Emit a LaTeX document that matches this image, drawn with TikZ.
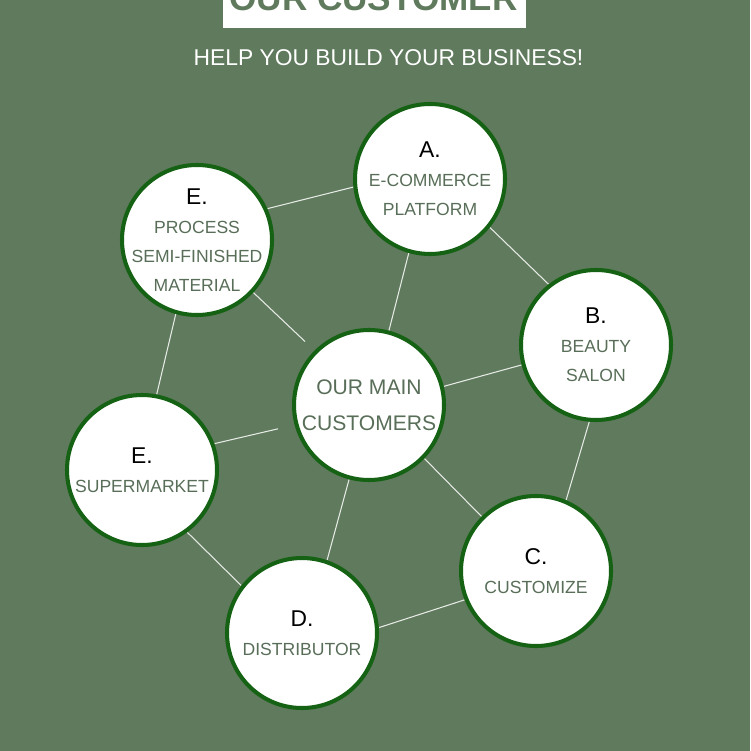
\documentclass[tikz,border=0pt]{standalone}
\usepackage{fontspec}
\setmainfont{Liberation Sans}
\usetikzlibrary{positioning}
\pgfdeclarelayer{background layer}
\pgfsetlayers{background layer,main}
\definecolor{leaf}{RGB}{95,122,92}
\definecolor{rim}{RGB}{22,98,20}
\definecolor{sage}{RGB}{88,110,88}
\newcommand{\bubblehead}[1]{{\fontsize{13}{16.4}\selectfont\color{black}#1}}

\begin{document}
\begin{tikzpicture}
\tikzstyle{bubble}=[draw=rim,line width=2.3pt,circle,fill=white,minimum size=3cm,inner sep=0pt]
\tikzstyle{words}=[align=center,text=sage,inner sep=0pt,font=\fontsize{10}{16.4}\selectfont]
\tikzstyle{link}=[draw=white,line width=0.6pt,opacity=0.85]
\useasboundingbox (0,0) rectangle (15,-15.02);
\node [anchor=base,text=leaf,font=\fontsize{20}{24}\selectfont\bfseries] at (7.47,-0.22) (title) {OUR CUSTOMER};
\node [anchor=base,text=white,font=\fontsize{13}{16}\selectfont] at (7.77,-1.32) (slogan) {HELP YOU BUILD YOUR BUSINESS!};

\node [bubble] at (7.38,-8.10) (main) {};
\node [bubble] at (8.60,-3.58) (a) {};
\node [bubble] at (11.92,-6.90) (b) {};
\node [bubble] at (10.72,-11.42) (c) {};
\node [bubble] at (6.04,-12.66) (d) {};
\node [bubble] at (2.84,-9.40) (esup) {};
\node [bubble] at (3.94,-4.80) (eproc) {};

\node [words,font=\fontsize{12}{20.4}\selectfont] at (main) (main text) {OUR MAIN\\CUSTOMERS};
\node [words] at (a) (a text) {\bubblehead{A.}\\E-COMMERCE\\PLATFORM};
\node [words] at (b) (b text) {\bubblehead{B.}\\BEAUTY\\SALON};
\node [words] at (c) (c text) {\bubblehead{C.}\\CUSTOMIZE};
\node [words] at (d) (d text) {\bubblehead{D.}\\DISTRIBUTOR};
\node [words] at (esup) (esup text) {\bubblehead{E.}\\SUPERMARKET};
\node [words] at (eproc) (eproc text) {\bubblehead{E.}\\PROCESS\\SEMI-FINISHED\\MATERIAL};

\begin{pgfonlayer}{background layer}
\fill [leaf] (0,0) rectangle (15,-15.02);
\fill [white] (4.46,0) rectangle (10.52,-0.56);
% outer ring
\draw [link] (eproc.24) edge (a.186);
\draw [link] (a.321) edge (b.128);
\draw [link] (b.265) edge (c.67);
\draw [link] (c.202) edge (d.4);
\draw [link] (d.142) edge (esup.306);
\draw [link] (esup.79) edge (eproc.254);
% spokes
\draw [link] (main.75) edge (a.254);
\draw [link] (main.14) edge (b.195);
\draw [link] (main.316) edge (c.135);
\draw [link] (main.255) edge (d.71);
\draw [link,shorten <=0.34cm] (main.195) edge (esup.20);
\draw [link,shorten <=0.26cm] (main.135) edge (eproc.317);
\end{pgfonlayer}
\end{tikzpicture}
\end{document}
